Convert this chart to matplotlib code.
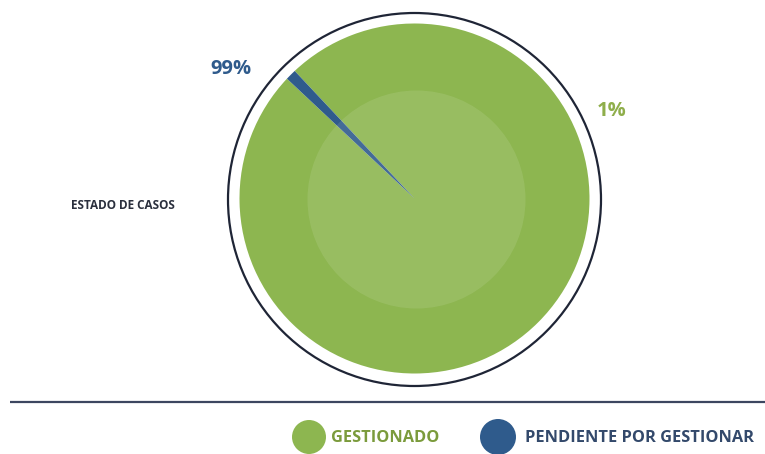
import matplotlib
matplotlib.use("Agg")
import matplotlib.pyplot as plt
from matplotlib.patches import Circle

# Case status data
categories = ["GESTIONADO", "PENDIENTE POR GESTIONAR"]
values = [99, 1]
slice_colors = ["#8db650", "#2f5b8c"]
legend_text_colors = ["#7b9b3c", "#33496b"]
title = "ESTADO DE CASOS"

W, H = 765, 454
fig = plt.figure(figsize=(W / 100, H / 100), dpi=100)
ax = fig.add_axes([0, 0, 1, 1])

cx, cy = 414.5, H - 198.5
R = 175

# Pie: the small slice sits in the upper-left at about 135 degrees
total = sum(values)
start = 135 + 180 * values[1] / total
ax.pie(values, colors=slice_colors, startangle=start, radius=R,
       center=(cx, cy), counterclock=True,
       wedgeprops=dict(linewidth=0))

# lighter inner disc
ax.add_patch(Circle((cx + 2, cy - 1), 109, facecolor="white", alpha=0.1,
                    edgecolor="none", zorder=3))
# thin outline ring around the pie
ax.add_patch(Circle((cx, cy - 1), 186.5, facecolor="none",
                    edgecolor="#1f2536", linewidth=1.6, zorder=3))

bold = dict(fontfamily="Open Sans", fontweight="bold")

# percentage labels
ax.text(231, H - 69, f"{values[0]}%", color=slice_colors[1], fontsize=14.5,
        ha="center", va="center", **bold)
ax.text(612, H - 111, f"{values[1]}%", color="#8fae4b", fontsize=14.5,
        ha="center", va="center", **bold)

# chart title on the left
ax.text(71, H - 205.5, title, color="#2a2f3d", fontsize=8.5,
        ha="left", va="center", **bold)

# separator line
ax.plot([10, W], [H - 401.5, H - 401.5], color="#3c4660", linewidth=1.6,
        solid_capstyle="butt")

# legend
marker_x = [309, 498]
marker_d = [34, 36]
text_x = [331, 525]
for i, cat in enumerate(categories):
    ax.scatter([marker_x[i]], [H - 437], s=(marker_d[i] * 0.72) ** 2,
               color=slice_colors[i], edgecolors="none", zorder=4)
    ax.text(text_x[i], H - 438, cat, color=legend_text_colors[i],
            fontsize=11.8, ha="left", va="center", **bold)

ax.set_xlim(0, W)
ax.set_ylim(0, H)
ax.set_aspect("equal")
ax.axis("off")

fig.savefig("out.png", dpi=100, facecolor="white")
